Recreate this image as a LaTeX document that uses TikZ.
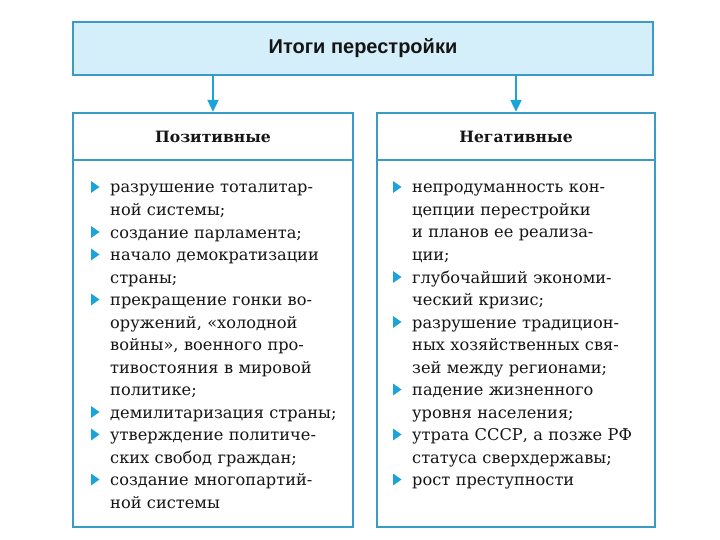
\documentclass[tikz,border=0pt]{standalone}
\usepackage{fontspec}
\setmainfont{DejaVu Serif}
\setsansfont{Liberation Sans}
\usetikzlibrary{arrows.meta}

\definecolor{frameblue}{HTML}{3A9CC4}
\definecolor{arrowblue}{HTML}{1BA3DC}
\definecolor{headfill}{HTML}{D4EFFA}
\definecolor{inktext}{HTML}{151515}

\begin{document}
\begin{tikzpicture}[x=1pt, y=-1pt,
    top/.style={draw=frameblue, line width=2.4pt, fill=headfill, minimum width=580pt, minimum height=53pt,
      font=\sffamily\bfseries\fontsize{20}{24}\selectfont, text=inktext},
    col/.style={draw=frameblue, line width=2.4pt, fill=white, minimum width=280pt, minimum height=414pt, inner sep=0pt},
    head/.style={font=\bfseries\fontsize{15.6}{18}\selectfont, text=inktext},
    item/.style={anchor=base west, text width=245pt, align=left, inner sep=0pt,
      font=\fontsize{16.2}{22.5}\selectfont, text=inktext},
    arr/.style={-{Triangle[length=12pt, width=11pt]}, line width=2.2pt, arrowblue}
    ]
    \useasboundingbox (0,0) rectangle (720,540);

    \node[top] (total) at (363,48.5) {Итоги перестройки};
    \node[col] (pos) at (213,320) {};
    \node[col, minimum width=278pt] (neg) at (516,320) {};
    \draw[frameblue, line width=2.2pt] (73,160) -- (353,160);
    \draw[frameblue, line width=2.2pt] (377,160) -- (655,160);
    \node[head] (poshead) at (213,137) {Позитивные};
    \node[head] (neghead) at (516,137) {Негативные};

    \draw[arr] (total.south -| poshead) -- (pos.north -| poshead);
    \draw[arr] (total.south -| neghead) -- (neg.north -| neghead);

    \node[item] (p1) at (110,193) {разрушение тоталитар-\\ной системы;};
    \node[item] (p2) at (110,238) {создание парламента;};
    \node[item] (p3) at (110,260.5) {начало демократизации\\страны;};
    \node[item] (p4) at (110,305.5) {прекращение гонки во-\\оружений, «холодной\\войны», военного про-\\тивостояния в мировой\\политике;};
    \node[item] (p5) at (110,418) {демилитаризация страны;};
    \node[item] (p6) at (110,440.5) {утверждение политиче-\\ских свобод граждан;};
    \node[item] (p7) at (110,485.5) {создание многопартий-\\ной системы};

    \node[item] (n1) at (412,193) {непродуманность кон-\\цепции перестройки\\и планов ее реализа-\\ции;};
    \node[item] (n2) at (412,283) {глубочайший экономи-\\ческий кризис;};
    \node[item] (n3) at (412,328) {разрушение традицион-\\ных хозяйственных свя-\\зей между регионами;};
    \node[item] (n4) at (412,395.5) {падение жизненного\\уровня населения;};
    \node[item] (n5) at (412,440.5) {утрата СССР, а позже РФ\\статуса сверхдержавы;};
    \node[item] (n6) at (412,485.5) {рост преступности};

    \foreach \i in {p1,p2,p3,p4,p5,p6,p7,n1,n2,n3,n4,n5,n6}
      \fill[arrowblue] ([xshift=-19pt, yshift=0pt]\i.base west) -- ++(0,-12) -- ++(8.5,6) -- cycle;
  \end{tikzpicture}
\end{document}
